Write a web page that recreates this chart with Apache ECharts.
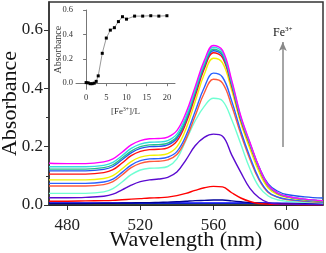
<!DOCTYPE html>
<html><head><meta charset="utf-8">
<script src="https://cdn.jsdelivr.net/npm/echarts@6/dist/echarts.min.js"></script>
<style>html,body{margin:0;padding:0;background:#fff}#c{width:326px;height:253px}</style>
</head><body><div id="c"></div>
<script>
// ---- data ----
const wavelengths = [470,480,490,500,505,510,515,520,525,530,535,540,545,550,555,560,565,570,575,580,585,590,595,600,610,620];
const absMagenta = [.143,.142,.142,.148,.158,.181,.206,.221,.227,.228,.233,.255,.316,.405,.495,.547,.530,.428,.305,.215,.130,.068,.042,.030,.020,.015];
const absCyan    = [.131,.131,.131,.136,.146,.169,.194,.209,.215,.216,.221,.243,.304,.396,.488,.541,.524,.422,.301,.212,.128,.067,.042,.030,.020,.015];
const absTeal    = [.123,.123,.123,.128,.138,.161,.185,.200,.206,.207,.212,.234,.296,.388,.480,.534,.517,.417,.297,.209,.127,.066,.041,.029,.019,.014];
const absBlue1   = [.117,.117,.117,.122,.132,.155,.179,.194,.200,.201,.206,.228,.290,.383,.475,.529,.512,.413,.296,.210,.130,.072,.048,.036,.028,.024];
const absRed1    = [.106,.106,.106,.111,.121,.144,.169,.184,.190,.191,.196,.219,.281,.373,.467,.522,.505,.407,.290,.205,.124,.065,.040,.029,.019,.014];
const absYellow  = [.086,.086,.086,.091,.101,.124,.149,.164,.170,.171,.176,.199,.261,.354,.448,.503,.487,.393,.281,.193,.113,.058,.036,.026,.017,.013];
const absBlue2   = [.074,.074,.074,.079,.089,.112,.137,.152,.158,.159,.164,.183,.238,.321,.403,.452,.438,.357,.254,.165,.090,.045,.028,.020,.014,.010];
const absTomato  = [.065,.065,.065,.070,.080,.103,.128,.143,.149,.150,.155,.173,.226,.305,.384,.431,.418,.340,.243,.157,.086,.043,.027,.019,.013,.010];
const absAqua    = [.040,.040,.040,.045,.056,.079,.104,.120,.126,.127,.132,.158,.222,.288,.338,.366,.357,.293,.209,.124,.062,.031,.018,.013,.009,.007];
const absPurple  = [.025,.025,.026,.030,.037,.052,.068,.080,.086,.089,.095,.113,.155,.203,.232,.243,.236,.172,.112,.057,.025,.008,.004,.003,.002,.001];
const absRed2    = [.013,.013,.014,.015,.016,.018,.020,.022,.024,.025,.027,.032,.040,.050,.059,.064,.062,.042,.024,.012,.005,.003,.002,.002,.001,.001];
const absNavy    = [.005,.005,.005,.006,.006,.007,.007,.008,.008,.009,.010,.011,.013,.015,.016,.017,.017,.014,.011,.008,.006,.005,.005,.004,.004,.004];
const absBlue3   = [.007,.007,.007,.007,.007,.007,.007,.007,.007,.007,.007,.007,.007,.007,.007,.007,.007,.007,.007,.007,.007,.007,.006,.006,.006,.006];
const absGreen   = [.004,.004,.004,.004,.004,.004,.004,.004,.004,.004,.004,.004,.004,.004,.004,.004,.004,.004,.004,.004,.004,.004,.004,.004,.004,.004];
const absViolet  = [.003,.003,.003,.003,.003,.003,.003,.003,.003,.003,.003,.003,.003,.003,.003,.003,.003,.003,.003,.003,.003,.003,.003,.003,.003,.003];
const absBlack   = [.001,.001,.001,.001,.001,.001,.001,.001,.001,.001,.001,.001,.001,.001,.001,.001,.001,.001,.001,.001,.001,.001,.001,.001,.001,.001];

const insetRatio = [0,0.5,1,1.5,2,2.5,3,4,5,6,7,8,9,10,12,14,16,18,20];
const insetAbs   = [0.005,0.003,-0.004,-0.004,0.000,0.015,0.060,0.245,0.370,0.435,0.455,0.505,0.545,0.525,0.550,0.550,0.553,0.550,0.553];

const xTicks = [480,520,560,600];
const yTicks = [0,0.2,0.4,0.6];
const yMinorTicks = [0.1,0.3,0.5];
const insetXTicks = [0,5,10,15,20];
const insetYTicks = [0,0.2,0.4,0.6];

// ---- build ----
const spectraList = [
  [absBlack,'#000000'],[absViolet,'#990099'],[absGreen,'#008800'],[absBlue3,'#0000ff'],
  [absNavy,'#000099'],[absRed2,'#ff0000'],[absPurple,'#5a0ad0'],[absAqua,'#6fffd2'],
  [absTomato,'#ff5a3c'],[absBlue2,'#2a62ff'],[absYellow,'#f2f200'],[absRed1,'#ff1010'],
  [absBlue1,'#2255ee'],[absTeal,'#22c08a'],[absCyan,'#33dede'],[absMagenta,'#ff00ff']
];
const FONT = 'Liberation Serif';
const series = spectraList.map(([vals,color],i)=>({
  type:'line', xAxisIndex:0, yAxisIndex:0, smooth:0.4, symbol:'none',
  lineStyle:{color, width:1.4}, data: wavelengths.map((w,k)=>[w, vals[k]]),
  silent:true, z: 2+i
}));
series[series.length-1].markLine = {
  silent:true, symbol:['none','arrow'], symbolSize:[6,9],
  lineStyle:{color:'#888', width:1.5, type:'solid'},
  label:{show:true, position:'end', distance:2,
    formatter:'{a|Fe}{b|3+}',
    rich:{a:{fontFamily:FONT,fontSize:12,color:'#111'},b:{fontFamily:FONT,fontSize:7,color:'#111',padding:[0,0,7,0]}}},
  data:[[{coord:[598,0.199]},{coord:[598,0.559]}]]
};
series.push({
  type:'line', xAxisIndex:2, yAxisIndex:2, symbol:'rect', symbolSize:3,
  itemStyle:{color:'#000'}, lineStyle:{color:'#999', width:1},
  data: insetRatio.map((r,k)=>[r, insetAbs[k]]), z:20
});

const chart = echarts.init(document.getElementById('c'), null, {renderer:'canvas'});
chart.setOption({
  animation:false,
  backgroundColor:'#fff',
  grid:[
    {left:49, right:3, top:2, bottom:48, show:true, borderColor:'#333', borderWidth:1.5, backgroundColor:'transparent', containLabel:false, outerBoundsMode:'none'},
    {left:76, top:10, width:99, height:79.3, containLabel:false, outerBoundsMode:'none'}
  ],
  xAxis:[
    {type:'value', gridIndex:0, min:470, max:620, position:'bottom',
     name:'Wavelength (nm)', nameLocation:'middle', nameGap:24, nameMoveOverlap:false,
     nameTextStyle:{fontFamily:FONT, fontSize:22, color:'#111'},
     axisLine:{lineStyle:{color:'#333', width:1.5}},
     axisTick:{customValues:xTicks, length:5, lineStyle:{color:'#333'}},
     axisLabel:{customValues:xTicks, margin:12, fontFamily:FONT, fontSize:17, color:'#222'},
     splitLine:{show:false}},
    {type:'value', gridIndex:0, min:470, max:620, show:false},
    {type:'value', gridIndex:1, min:-2.5, max:22, position:'bottom',
     name:'[Fe{s|3+}]/L', nameLocation:'middle', nameGap:17, nameMoveOverlap:false,
     nameTextStyle:{fontFamily:FONT, fontSize:9, color:'#333', rich:{s:{fontFamily:FONT,fontSize:5.5,color:'#333',padding:[0,0,5,0]}}},
     axisLine:{lineStyle:{color:'#777', width:1}},
     axisTick:{customValues:insetXTicks, length:3, lineStyle:{color:'#777'}},
     axisLabel:{customValues:insetXTicks, margin:4, fontFamily:FONT, fontSize:8.5, color:'#333'},
     splitLine:{show:false}}
  ],
  yAxis:[
    {type:'value', gridIndex:0, min:0, max:0.696, position:'left',
     name:'Absorbance', nameLocation:'middle', nameGap:28, nameMoveOverlap:false,
     nameTextStyle:{fontFamily:FONT, fontSize:22, color:'#111'},
     axisLine:{lineStyle:{color:'#333', width:1.5}},
     axisTick:{customValues:yTicks, length:5, lineStyle:{color:'#333'}},
     axisLabel:{customValues:yTicks, margin:6, fontFamily:FONT, fontSize:17, color:'#222', formatter:v=>v.toFixed(1)},
     splitLine:{show:false}},
    {type:'value', gridIndex:0, min:0, max:0.696, position:'left', offset:0,
     axisLine:{show:false}, axisLabel:{show:false}, splitLine:{show:false},
     axisTick:{customValues:yMinorTicks, length:3, lineStyle:{color:'#333'}}},
    {type:'value', gridIndex:1, min:-0.05, max:0.6, position:'left',
     name:'Absorbance', nameLocation:'middle', nameGap:13, nameMoveOverlap:false,
     nameTextStyle:{fontFamily:FONT, fontSize:10, color:'#333'},
     axisLine:{lineStyle:{color:'#777', width:1}},
     axisTick:{customValues:insetYTicks, length:3, lineStyle:{color:'#777'}},
     axisLabel:{customValues:insetYTicks, margin:3, fontFamily:FONT, fontSize:8.5, color:'#333', formatter:v=>v.toFixed(1)},
     splitLine:{show:false}}
  ],
  series
});
</script></body></html>
